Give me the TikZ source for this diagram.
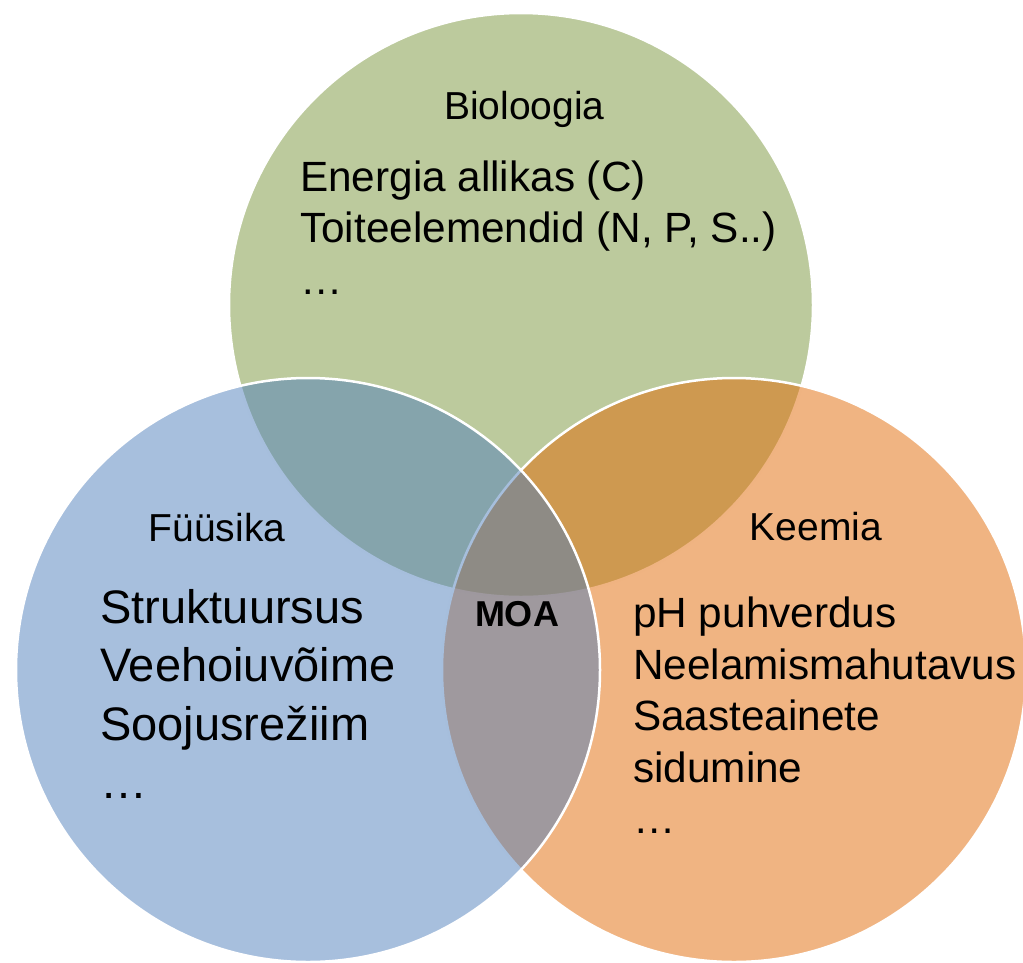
\documentclass[tikz,border=0pt]{standalone}
\usepackage{fontspec}
\setmainfont{Liberation Sans}
\definecolor{bioG}{HTML}{BCCA9D}
\definecolor{keeO}{HTML}{E16905}
\definecolor{fyyB}{HTML}{4F7FBB}
\tikzset{
  venn/.style={draw=white, line width=2.5pt},
  lab/.style={anchor=base, inner sep=0pt, font=\fontsize{39}{47}\selectfont},
  bodyA/.style={anchor=base west, inner sep=0pt, font=\fontsize{42.3}{51}\selectfont},
  bodyB/.style={anchor=base west, inner sep=0pt, font=\fontsize{47}{57}\selectfont},
  core/.style={anchor=base, inner sep=0pt, font=\bfseries\fontsize{36}{43}\selectfont}
}
\begin{document}
\begin{tikzpicture}[x=1pt,y=-1pt]
\useasboundingbox (0,0) rectangle (1023,962);
\clip (0,0) rectangle (1023,962);
% circles: green first, then orange, then blue (50% fills)
\path[venn, fill=bioG] (521,305) circle[radius=292];
\path[venn, fill=keeO, fill opacity=0.5] (734,670) circle[radius=292];
\path[venn, fill=fyyB, fill opacity=0.5] (308,670) circle[radius=292];
% labels
\node[lab] (tBio) at (524.5,119) {Bioloogia};
\node[lab] (tFyy) at (217,541.5) {Füüsika};
\node[lab] (tKee) at (816,540) {Keemia};
\node[core] (tMOA) at (517,626.5) {MOA};
% Bioloogia text
\node[bodyA] (b1) at (300,191) {Energia allikas (C)};
\node[bodyA] (b2) at (300,242.5) {Toiteelemendid (N, P, S..)};
\node[bodyA] (b3) at (300,294) {…};
% Fuusika text
\node[bodyB] (f1) at (100,623) {Struktuursus};
\node[bodyB] (f2) at (100,681.5) {Veehoiuvõime};
\node[bodyB] (f3) at (100,740) {Soojusrežiim};
\node[bodyB] (f4) at (100,798.5) {…};
% Keemia text
\node[bodyA] (k1) at (633,627.5) {pH puhverdus};
\node[bodyA] (k2) at (633,679) {Neelamismahutavus};
\node[bodyA] (k3) at (633,730.5) {Saasteainete};
\node[bodyA] (k4) at (633,782) {sidumine};
\node[bodyA] (k5) at (633,833.5) {…};
\end{tikzpicture}
\end{document}
